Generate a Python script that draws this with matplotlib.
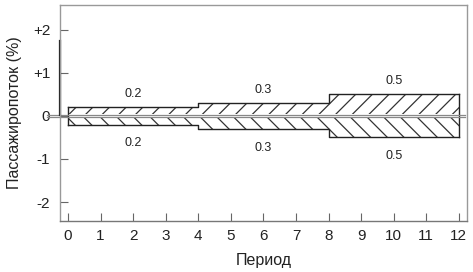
import numpy as np
import matplotlib
matplotlib.use("Agg")
import matplotlib.pyplot as plt

plt.rcParams['font.family'] = ['Liberation Sans', 'DejaVu Sans']
plt.rcParams['hatch.linewidth'] = 0.9
plt.rcParams['hatch.color'] = '#333333'

# segment boundaries (periods) and band half-widths (%)
edges = [0, 4, 8, 12]
band = [0.2, 0.3, 0.5]
labels = ['0.2', '0.3', '0.5']
xticks = list(range(0, 13))
yticks = [-2, -1, 0, 1, 2]
yticklabels = ['-2', '-1', '0', '+1', '+2']

fig = plt.figure(figsize=(4.73, 2.72), dpi=100)
ax = fig.add_axes([0.127, 0.1875, 0.86, 0.795])

gap = 0.04
y_step = band + [band[-1]]

# upper and lower hatched bands
ax.fill_between(edges, gap, y_step, step='post', facecolor='white',
                hatch='//', linewidth=0)
ax.fill_between(edges, [-v for v in y_step], -gap, step='post',
                facecolor='white', hatch='\\\\', linewidth=0)

# outlines of the bands
ax.step(edges, y_step, where='post', color='#222222', lw=1)
ax.step(edges, [-v for v in y_step], where='post', color='#222222', lw=1)
for x, v in [(edges[0], y_step[0]), (edges[-1], y_step[-1])]:
    ax.plot([x, x], [-v, v], color='#222222', lw=1)

# zero double line
for y0 in (gap * 0.6, -gap * 0.6):
    ax.plot([-0.65, 12.2], [y0, y0], color='#888888', lw=0.9, clip_on=False)

# labels on the bands
for i, lab in enumerate(labels):
    xc = (edges[i] + edges[i + 1]) / 2
    ax.text(xc, band[i] + 0.17, lab, ha='center', va='bottom', fontsize=9,
            color='#222222')
    ax.text(xc, -band[i] - 0.3, lab, ha='center', va='top', fontsize=9,
            color='#222222')

ax.set_xlim(-0.245, 12.245)
ax.set_ylim(-2.44, 2.58)
ax.set_xticks(xticks)
ax.set_yticks(yticks)
ax.set_yticklabels(yticklabels)
ax.tick_params(direction='in', length=6, width=0.8, color='#666666',
               labelsize=11, labelcolor='#222222')
ax.tick_params(axis='x', pad=6)
ax.tick_params(axis='y', pad=7)

for s in ax.spines.values():
    s.set_color('#999999')
    s.set_linewidth(1)
ax.spines['bottom'].set_color('#777777')

# dark segment on left spine as in the scan
ax.plot([-0.245, -0.245], [0.03, 1.75], color='#111111', lw=1.6, clip_on=False)

ax.set_xlabel('Период', fontsize=11.5, color='#222222', labelpad=7)
ax.set_ylabel('Пассажиропоток (%)', fontsize=11.5, color='#222222', labelpad=8)

fig.savefig('out.png', dpi=100)
